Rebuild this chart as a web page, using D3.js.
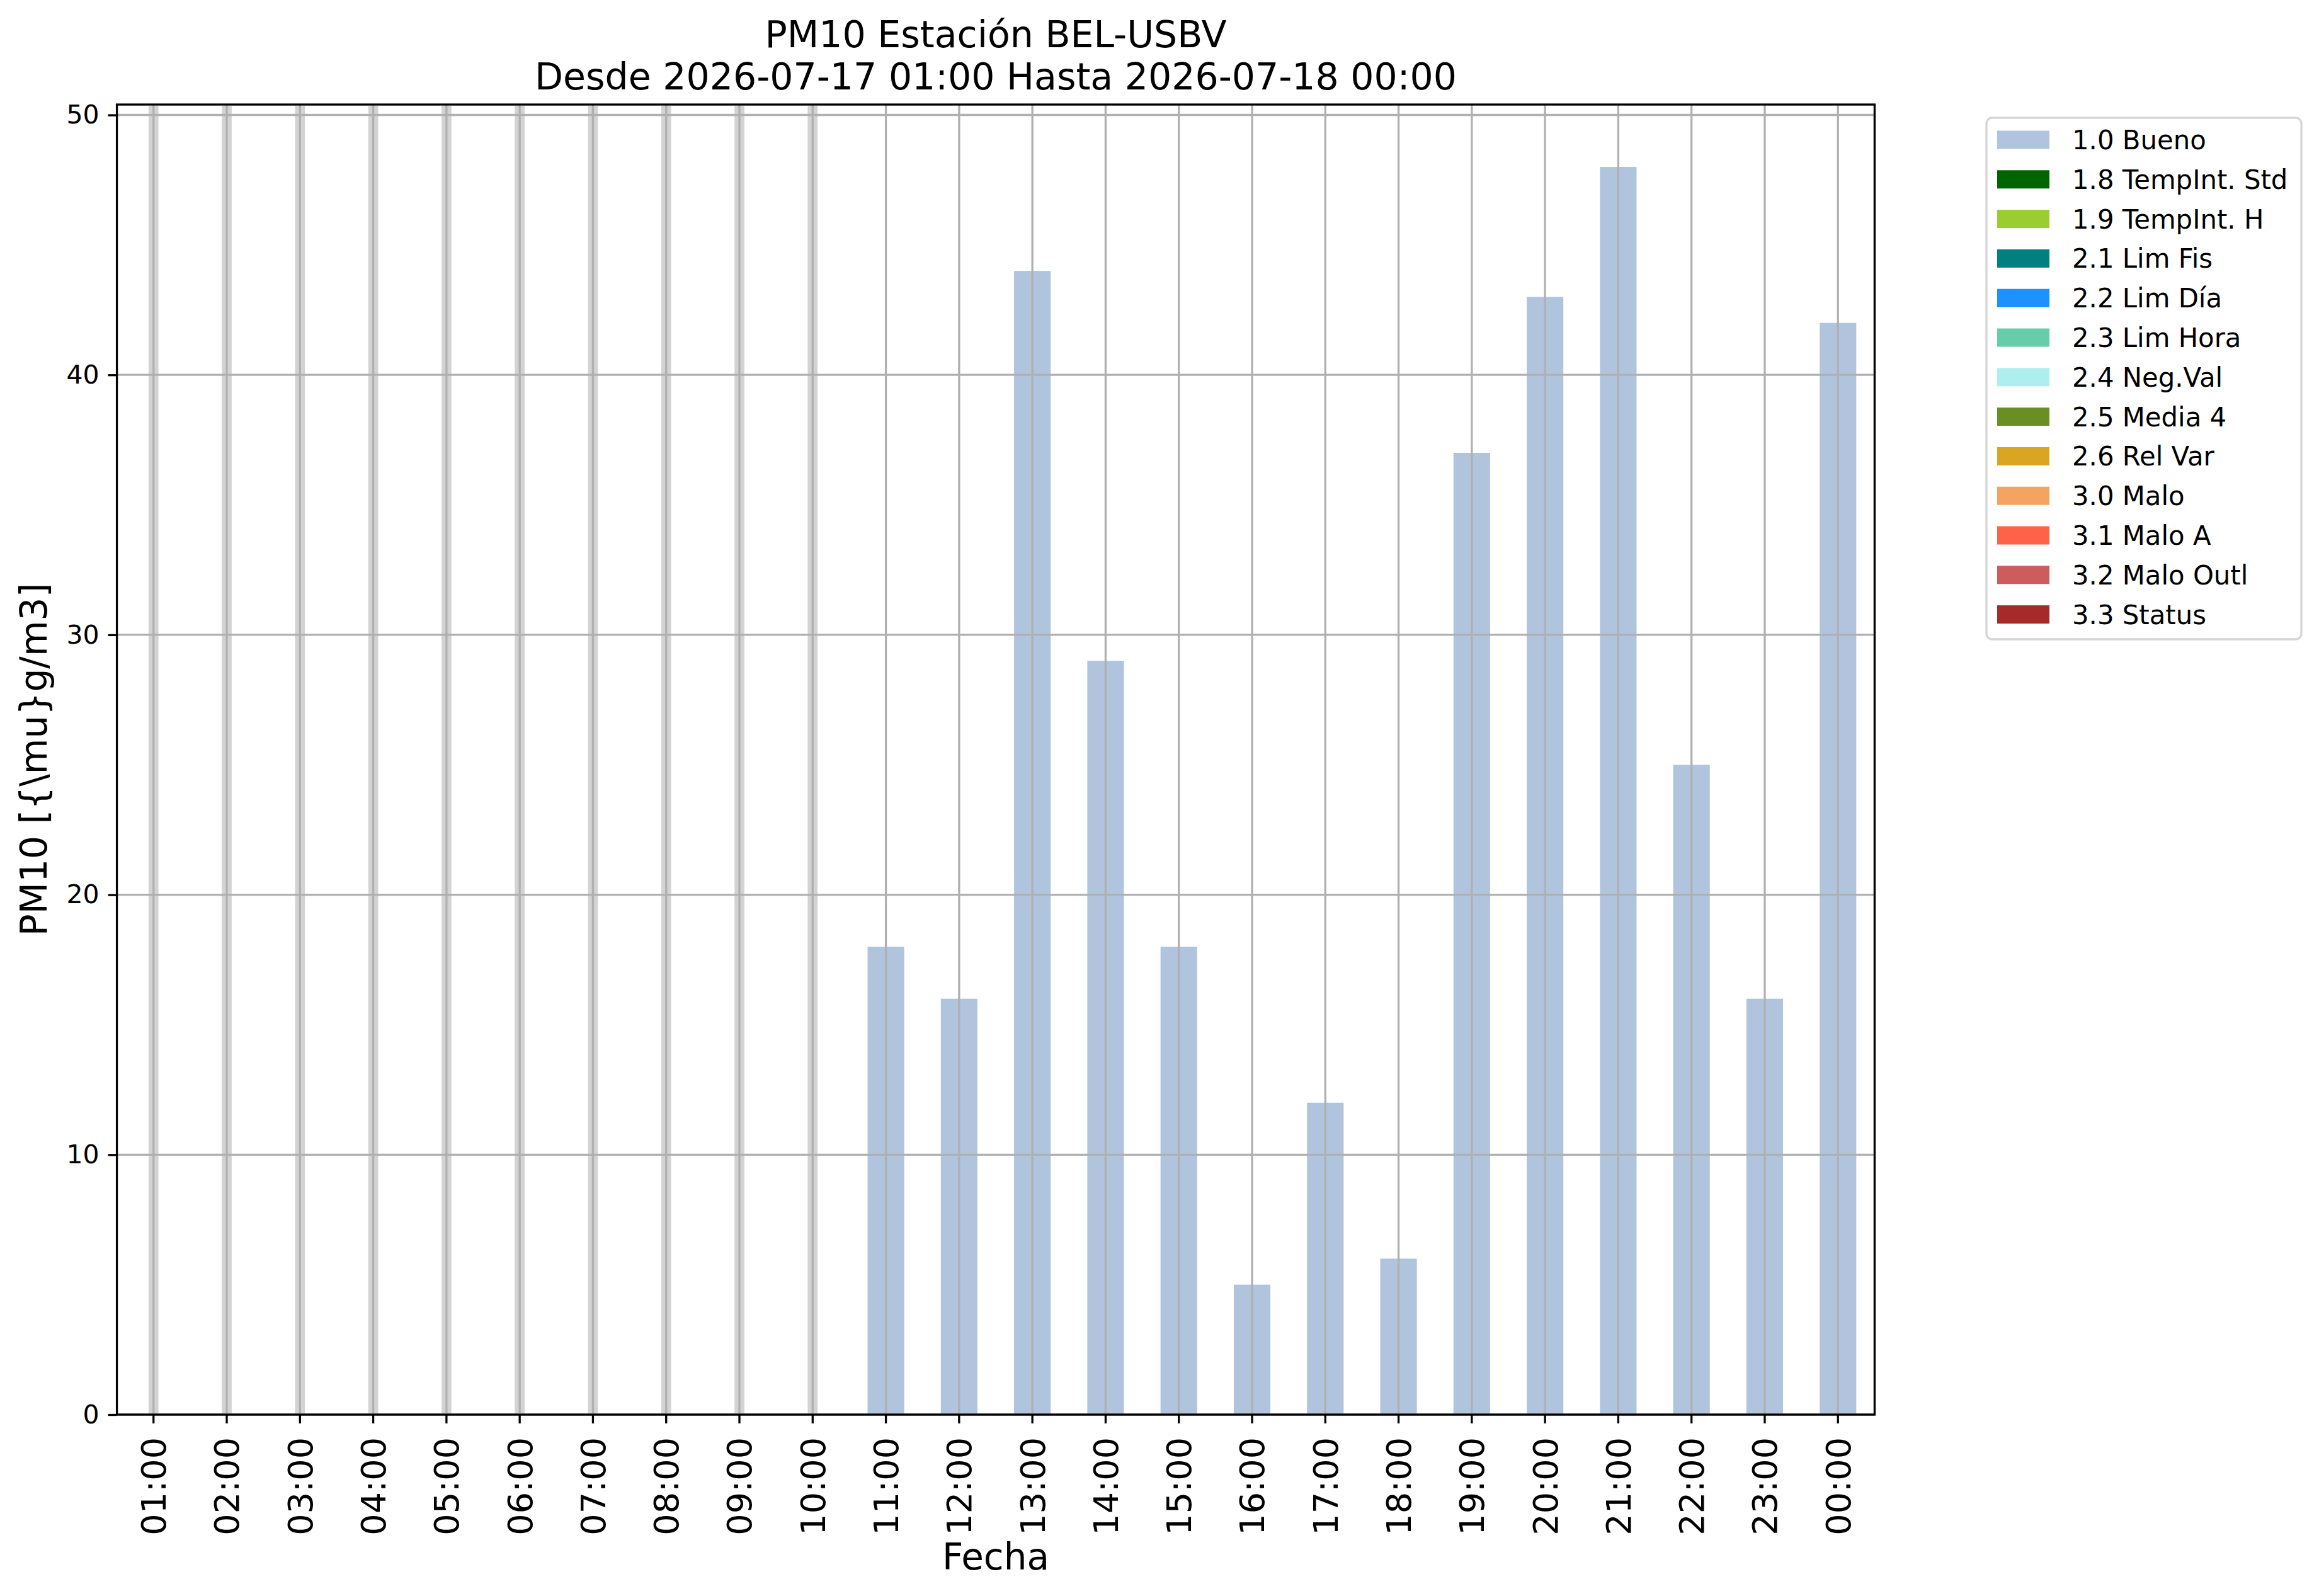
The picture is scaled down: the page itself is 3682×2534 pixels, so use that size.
<!DOCTYPE html>
<html>
<head>
<meta charset="utf-8">
<script src="https://cdn.jsdelivr.net/npm/d3@7"></script>
<style>
  body { margin: 0; background: #fff; }
  text { font-family: "DejaVu Sans", sans-serif; fill: #000; }
</style>
</head>
<body>
<div id="chart-area"></div>
<script>
// hourly PM10 values, null = no data for that hour
const hours = ["01:00", "02:00", "03:00", "04:00", "05:00", "06:00", "07:00", "08:00",
  "09:00", "10:00", "11:00", "12:00", "13:00", "14:00", "15:00", "16:00",
  "17:00", "18:00", "19:00", "20:00", "21:00", "22:00", "23:00", "00:00"]
const bueno = [null, null, null, null, null, null, null, null, null, null,
  18, 16, 44, 29, 18, 5, 12, 6, 37, 43, 48, 25, 16, 42]

const flagLabels = ["1.0 Bueno", "1.8 TempInt. Std", "1.9 TempInt. H", "2.1 Lim Fis",
  "2.2 Lim Día", "2.3 Lim Hora", "2.4 Neg.Val", "2.5 Media 4", "2.6 Rel Var",
  "3.0 Malo", "3.1 Malo A", "3.2 Malo Outl", "3.3 Status"]
const flagColors = ["lightsteelblue", "darkgreen", "yellowgreen", "teal", "dodgerblue",
  "mediumaquamarine", "paleturquoise", "olivedrab", "goldenrod", "sandybrown",
  "tomato", "indianred", "brown"]
const seriesByFlag = { "1.0 Bueno": bueno }

const yTicks = [0, 10, 20, 30, 40, 50]
const yMax = 50.4

const W = 3682, H = 2534
const axLeft = 185.6, axRight = 2976.4, axTop = 166, axBottom = 2246
const lw = 3.3

const svg = d3.select("#chart-area").append("svg")
  .attr("width", W)
  .attr("height", H)

const x = d3.scaleBand().domain(hours).range([axLeft, axRight]).padding(0)
const y = d3.scaleLinear().domain([0, yMax]).range([axBottom, axTop])
const bw = x.bandwidth()

// stacked rows, one per hour
const rows = hours.map((h, i) => {
  let row = { hour: h }
  flagLabels.forEach(f => {
    let s = seriesByFlag[f]
    row[f] = s && s[i] != null ? s[i] : 0
  })
  return row
})
const stacked = d3.stack().keys(flagLabels)(rows)

svg.append("g").selectAll("g")
  .data(stacked)
  .enter().append("g")
    .attr("fill", (d, i) => flagColors[i])
  .selectAll("rect")
  .data(d => d)
  .enter().append("rect")
    .attr("x", d => x(d.data.hour) + bw * 0.25)
    .attr("width", bw * 0.5)
    .attr("y", d => y(d[1]))
    .attr("height", d => y(d[0]) - y(d[1]))

// hours without data
svg.append("g").selectAll("rect")
  .data(hours.filter((h, i) => bueno[i] == null))
  .enter().append("rect")
    .attr("x", h => x(h) + bw / 2 - bw * 0.0675)
    .attr("width", bw * 0.135)
    .attr("y", y(yMax) + 2)
    .attr("height", y(0) - y(yMax) - 2)
    .attr("fill", "lightgray")

// grid
let grid = svg.append("g").attr("stroke", "#b0b0b0").attr("stroke-width", lw)
grid.selectAll(".gx").data(hours).enter().append("line")
  .attr("x1", h => x(h) + bw / 2).attr("x2", h => x(h) + bw / 2)
  .attr("y1", axTop).attr("y2", axBottom)
grid.selectAll(".gy").data(yTicks).enter().append("line")
  .attr("x1", axLeft).attr("x2", axRight)
  .attr("y1", d => y(d)).attr("y2", d => y(d))

// axes
let yAxis = svg.append("g")
  .attr("transform", `translate(${axLeft},0)`)
  .call(d3.axisLeft(y).tickValues(yTicks).tickSize(14).tickPadding(14).tickFormat(d3.format("d")))
let xAxis = svg.append("g")
  .attr("transform", `translate(0,${axBottom})`)
  .call(d3.axisBottom(x).tickSize(14).tickPadding(14))

yAxis.select(".domain").remove()
xAxis.select(".domain").remove()
svg.selectAll(".tick line").attr("stroke", "#000").attr("stroke-width", lw)

yAxis.selectAll("text")
  .attr("font-size", 41)
  .attr("font-family", "DejaVu Sans")

xAxis.selectAll("text")
  .attr("font-size", 54)
  .attr("font-family", "DejaVu Sans")
  .attr("text-anchor", "end")
  .attr("transform", "translate(0,36) rotate(-90)")
  .attr("x", 0)
  .attr("y", 0)
  .attr("dy", "0.36em")

// frame
svg.append("rect")
  .attr("x", axLeft).attr("y", axTop)
  .attr("width", axRight - axLeft).attr("height", axBottom - axTop)
  .attr("fill", "none")
  .attr("stroke", "#000")
  .attr("stroke-width", lw)

// titles and labels
svg.append("text")
  .attr("x", (axLeft + axRight) / 2).attr("y", 75)
  .attr("text-anchor", "middle").attr("font-size", 58.5)
  .text("PM10 Estación BEL-USBV")
svg.append("text")
  .attr("x", (axLeft + axRight) / 2).attr("y", 142)
  .attr("text-anchor", "middle").attr("font-size", 58.5)
  .text("Desde 2026-07-17 01:00 Hasta 2026-07-18 00:00")
svg.append("text")
  .attr("x", (axLeft + axRight) / 2).attr("y", 2492)
  .attr("text-anchor", "middle").attr("font-size", 58)
  .text("Fecha")
svg.append("text")
  .attr("transform", `translate(74,${(axTop + axBottom) / 2}) rotate(-90)`)
  .attr("text-anchor", "middle").attr("font-size", 58.2)
  .text("PM10 [{\\mu}g/m3]")

// legend
let legend = svg.append("g")
legend.append("rect")
  .attr("x", 3154).attr("y", 187)
  .attr("width", 500).attr("height", 828)
  .attr("rx", 9)
  .attr("fill", "#fff")
  .attr("stroke", "#d6d6d6")
  .attr("stroke-width", lw)

let items = legend.selectAll(".item")
  .data(flagLabels)
  .enter().append("g")
    .attr("transform", (d, i) => `translate(0,${222 + i * 62.8})`)
items.append("rect")
  .attr("x", 3171).attr("y", -14.5)
  .attr("width", 83).attr("height", 29)
  .attr("fill", (d, i) => flagColors[i])
items.append("text")
  .attr("x", 3290).attr("dy", "0.36em")
  .attr("font-size", 41.8)
  .text(d => d)
</script>
</body>
</html>
